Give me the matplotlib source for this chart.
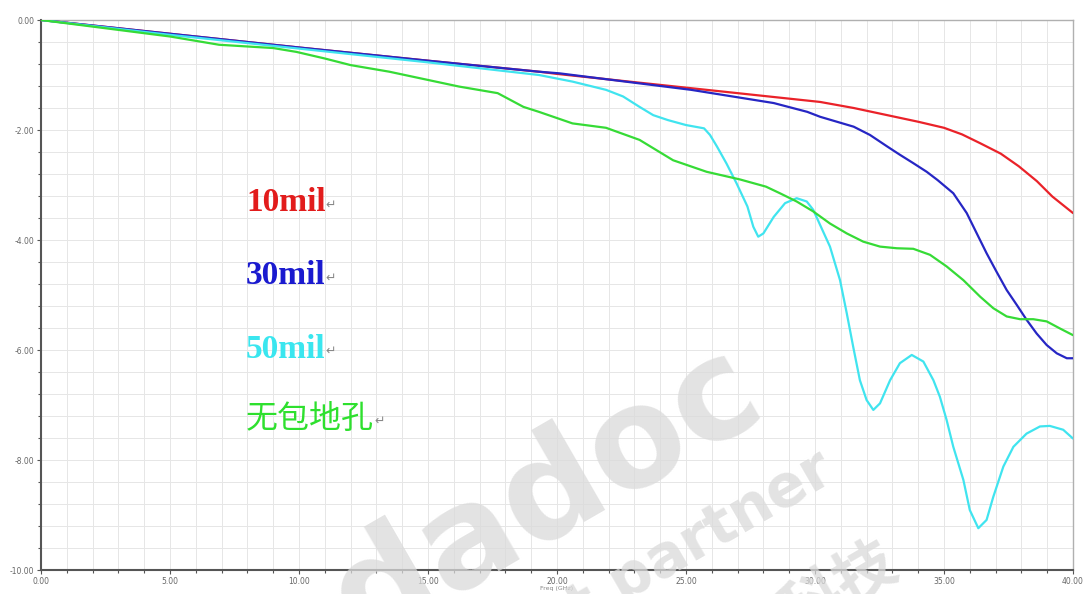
import matplotlib
matplotlib.use("Agg")
import matplotlib.pyplot as plt
from matplotlib.ticker import MultipleLocator, FormatStrFormatter

# Insertion loss (dB) versus frequency (GHz) for four via-fence variants
freq_10 = [0, 5, 10, 15, 19.3, 20, 25.2, 28.0, 30.2, 31.5, 32.8, 34.0, 35.0, 35.7, 36.4, 37.2,
           37.9, 38.6, 39.2, 40]
loss_10 = [0, -0.25, -0.5, -0.74, -0.94, -0.98, -1.24, -1.38, -1.49, -1.6, -1.73, -1.85, -1.96,
           -2.08, -2.24, -2.43, -2.66, -2.93, -3.21, -3.51]

freq_30 = [0, 5, 10, 15, 19.3, 20.1, 25.2, 28.4, 29.7, 30.2, 31.5, 32.13, 32.8, 33.29, 33.8,
           34.33, 34.75, 35.36, 35.88, 36.27, 36.65, 37.04, 37.43, 37.82, 38.2, 38.59, 38.98,
           39.37, 39.76, 40]
loss_30 = [0, -0.25, -0.5, -0.74, -0.94, -0.97, -1.27, -1.51, -1.67, -1.76, -1.94, -2.09, -2.3,
           -2.45, -2.6, -2.76, -2.91, -3.15, -3.51, -3.88, -4.24, -4.58, -4.91, -5.18, -5.45,
           -5.7, -5.91, -6.06, -6.15, -6.15]

freq_50 = [0, 5, 10, 15, 19.3, 20.6, 21.9, 22.56, 23.2, 23.73, 24.3, 25.0, 25.7, 25.93, 26.2,
           26.57, 26.96, 27.38, 27.61, 27.8, 28.0, 28.4, 28.84, 29.29, 29.68, 29.93, 30.58,
           30.97, 31.23, 31.48, 31.74, 32.0, 32.26, 32.52, 32.91, 33.29, 33.75, 34.2, 34.59,
           34.84, 35.1, 35.36, 35.75, 36.0, 36.33, 36.65, 36.91, 37.3, 37.69, 38.2, 38.72,
           39.1, 39.62, 40]
loss_50 = [0, -0.27, -0.52, -0.77, -1.0, -1.12, -1.27, -1.39, -1.58, -1.73, -1.82, -1.91, -1.97,
           -2.09, -2.3, -2.61, -2.97, -3.39, -3.76, -3.94, -3.88, -3.58, -3.33, -3.24, -3.3,
           -3.45, -4.12, -4.73, -5.33, -5.94, -6.55, -6.91, -7.09, -6.97, -6.55, -6.24, -6.09,
           -6.21, -6.55, -6.85, -7.27, -7.76, -8.36, -8.91, -9.24, -9.09, -8.67, -8.12, -7.76,
           -7.52, -7.39, -7.38, -7.45, -7.61]

freq_none = [0, 5, 6.9, 9.0, 9.9, 11, 12, 13.5, 15, 16.2, 17.7, 18.7, 19.3, 20.6, 21.9, 23.2,
             24.5, 25.8, 27.1, 28.1, 28.64, 29.29, 29.93, 30.58, 31.23, 31.87, 32.52, 33.17,
             33.81, 34.46, 35.1, 35.75, 36.4, 36.91, 37.43, 37.95, 38.46, 38.98, 39.5, 40]
loss_none = [0, -0.3, -0.45, -0.51, -0.58, -0.7, -0.82, -0.94, -1.09, -1.21, -1.33, -1.58, -1.67,
             -1.88, -1.96, -2.18, -2.55, -2.76, -2.9, -3.03, -3.15, -3.3, -3.48, -3.7, -3.88,
             -4.03, -4.12, -4.15, -4.16, -4.27, -4.48, -4.73, -5.03, -5.24, -5.39, -5.44, -5.44,
             -5.48, -5.61, -5.73]

series_labels = ["10mil", "30mil", "50mil", "无包地孔"]
series_colors = ["#ea2229", "#2626c4", "#40e4ef", "#36db36"]
label_colors = ["#e21c1c", "#1a1acf", "#3ae6ef", "#2ee02e"]

W, H = 1083, 594
fig = plt.figure(figsize=(W / 100, H / 100), dpi=100)
fig.patch.set_facecolor("white")
ax = fig.add_axes([41 / W, 24 / H, (1073 - 41) / W, (570 - 20) / H])

# Faint background watermark
wm = dict(color="#dadada", alpha=0.75, ha="center", va="center", zorder=0,
          fontweight="bold", family="DejaVu Sans")
fig.text(505 / W, 1 - 520 / H, "edadoc", fontsize=100, rotation=30, **wm)
fig.text(650 / W, 1 - 568 / H, "best partner", fontsize=42, rotation=30, **wm)
fig.text(840 / W, 1 - 588 / H, "科技", fontsize=44, rotation=30,
         **{**wm, "family": ["Noto Sans CJK SC", "DejaVu Sans"]})
ax.set_facecolor("none")

for fx, ly, c in zip([freq_10, freq_30, freq_50, freq_none],
                     [loss_10, loss_30, loss_50, loss_none], series_colors):
    ax.plot(fx, ly, color=c, lw=1.6, solid_capstyle="round", solid_joinstyle="round",
            zorder=3)

ax.set_xlim(0, 40)
ax.set_ylim(-10, 0)
ax.xaxis.set_major_locator(MultipleLocator(5))
ax.xaxis.set_minor_locator(MultipleLocator(1))
ax.yaxis.set_major_locator(MultipleLocator(2))
ax.yaxis.set_minor_locator(MultipleLocator(0.4))
ax.xaxis.set_major_formatter(FormatStrFormatter("%.2f"))
ax.yaxis.set_major_formatter(FormatStrFormatter("%.2f"))
ax.grid(which="both", color="#e6e6e6", lw=0.7, zorder=1)
ax.set_axisbelow(True)

ax.tick_params(which="both", direction="out", color="#555555", labelsize=5.5,
               labelcolor="#666666", pad=2)
ax.tick_params(which="major", length=3, width=0.8)
ax.tick_params(which="minor", length=2.5, width=0.8)
for side in ("left", "bottom"):
    ax.spines[side].set_color("#555555")
    ax.spines[side].set_linewidth(1.5)
for side in ("top", "right"):
    ax.spines[side].set_color("#b0b0b0")
    ax.spines[side].set_linewidth(1.0)

ax.set_xlabel("Freq (GHz)", fontsize=4.5, color="#888888", labelpad=0)

# Series annotations, each followed by a paragraph mark
label_y = [203, 276, 349, 419]
fig.canvas.draw()
renderer = fig.canvas.get_renderer()
for text, c, py in zip(series_labels, label_colors, label_y):
    if text.endswith("mil"):
        t = fig.text(246 / W, 1 - py / H, text, color=c, fontsize=24, fontweight="bold",
                     family="Liberation Serif", va="center", ha="left")
    else:
        t = fig.text(246 / W, 1 - py / H, text, color=c, fontsize=23,
                     family=["Noto Sans CJK SC", "DejaVu Sans"], va="center", ha="left")
    end_x = t.get_window_extent(renderer).x1
    fig.text(end_x / W, 1 - (py + 2) / H, "\u21b5", color="#888888", fontsize=9,
             family="DejaVu Sans", va="center", ha="left")

fig.savefig("out.png", dpi=100, facecolor="white")
